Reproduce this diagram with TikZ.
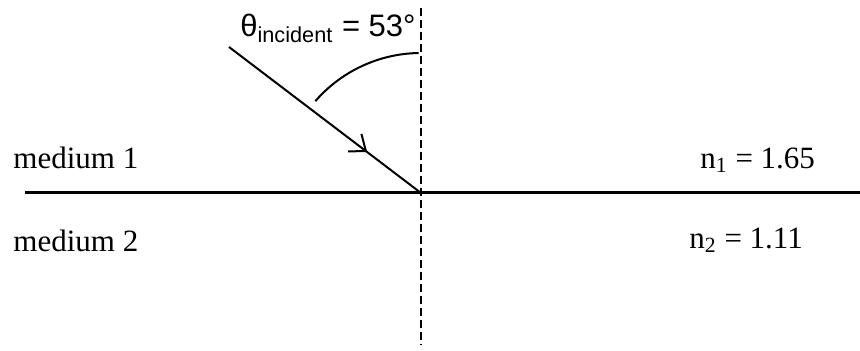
\documentclass[tikz,border=0pt]{standalone}
\usepackage{fontspec}
\setmainfont{Liberation Serif}
\newfontfamily\anglefont{Liberation Sans}
\usetikzlibrary{arrows.meta,decorations.markings}

\tikzset{
  boundary/.style={line width=1.5pt},
  normalline/.style={line width=1pt, dash pattern=on 4pt off 2pt},
  ray/.style={line width=1pt, postaction={decorate},
    decoration={markings, mark=at position 0.72 with {\arrow{Straight Barb[length=7pt,width=11pt]}}}},
  txt/.style={font=\fontsize{15.5}{18}\selectfont, inner sep=0pt}
}

\begin{document}
\begin{tikzpicture}[x=0.5pt,y=-0.5pt]
    \useasboundingbox (0,0) rectangle (860,351);
    % interface and normal
    \coordinate (hit) at (421,193);
    \coordinate (left) at (25,193);
    \coordinate (right) at (860,193);
    \coordinate (top) at (421,8);
    \coordinate (bottom) at (421,345);
    \coordinate (source) at (229,47);
    \draw[boundary] (left) -- (right);
    \draw[normalline] (top) -- (bottom);
    \draw[ray] (source) -- (hit);
    \draw[line width=1pt] ([shift={(-139:140)}]hit) arc[start angle=-139, end angle=-91, radius=140];
    % labels
    \node[txt, anchor=east] (theta) at (416,28) {\anglefont θ\textsubscript{incident} = 53°};
    \node[txt, anchor=west] (medium1) at (13,158) {medium 1};
    \node[txt, anchor=west] (medium2) at (13,241) {medium 2};
    \node[txt, anchor=west] (n1) at (700,160) {n\textsubscript{1} = 1.65};
    \node[txt, anchor=west] (n2) at (689,240) {n\textsubscript{2} = 1.11};
\end{tikzpicture}
\end{document}
